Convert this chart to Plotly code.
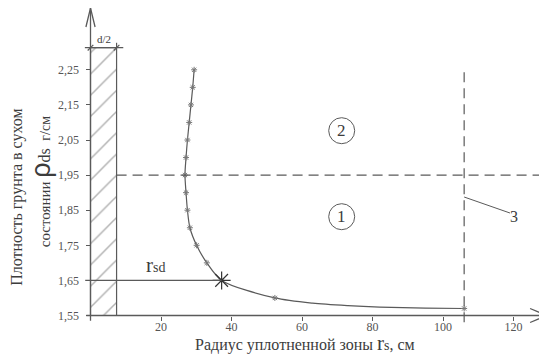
import plotly.graph_objects as go

# radius of compacted zone (cm) and dry density (g/cm3)
curve_r = [29.4, 29.0, 28.5, 28.0, 27.5, 27.1, 26.8, 27.1, 27.5, 28.2, 30.1, 33.0, 37.2,
           52.3, 63.0, 73.0, 82.0, 95.0, 106.0]
curve_rho = [2.25, 2.20, 2.15, 2.10, 2.05, 2.00, 1.95, 1.90, 1.85, 1.80, 1.75, 1.70, 1.65,
             1.60, 1.585, 1.578, 1.574, 1.571, 1.570]
marker_r = [29.4, 29.0, 28.5, 28.0, 27.5, 27.1, 26.8, 27.1, 27.5, 28.2, 30.1, 33.0, 52.3, 106.0]
marker_rho = [2.25, 2.20, 2.15, 2.10, 2.05, 2.00, 1.95, 1.90, 1.85, 1.80, 1.75, 1.70, 1.60, 1.570]
r_sd = 37.2
rho_sd = 1.65
half_d = 7.4
rho_limit = 1.95
r_limit = 106.0

x_ticks = [20, 40, 60, 80, 100, 120]
y_ticks = [1.55, 1.65, 1.75, 1.85, 1.95, 2.05, 2.15, 2.25]
y_ticktext = ["1,55", "1,65", "1,75", "1,85", "1,95", "2,05", "2,15", "2,25"]

# page has an 8px body margin, so the figure is shrunk and shifted by that much
W, H = 539, 349
X0PX, PXX = 82.5, 3.525      # pixel of r=0, pixels per cm
Y0PX, PXY = 307.5, 351.0     # pixel of rho=1.55, pixels per g/cm3
x_range = [-X0PX / PXX, (W - X0PX) / PXX]
y_range = [1.55 - (H - Y0PX) / PXY, 1.55 + Y0PX / PXY]

LINE = "#5a5a5a"
TEXT = "#3c3c3c"
FONT = "Liberation Serif"

fig = go.Figure()

# hatched half-diameter strip
fig.add_trace(go.Scatter(
    x=[0, half_d, half_d, 0, 0], y=[1.55, 1.55, 2.313, 2.313, 1.55],
    mode="lines", fill="toself", line=dict(color=LINE, width=1.2),
    fillcolor="white",
    fillpattern=dict(shape="/", size=15, solidity=0.1, fgcolor="#666", bgcolor="white"),
    hoverinfo="skip", showlegend=False))

# density curve
fig.add_trace(go.Scatter(
    x=curve_r, y=curve_rho, mode="lines", line=dict(color=LINE, width=1.2, shape="spline", smoothing=0.8),
    showlegend=False))
fig.add_trace(go.Scatter(
    x=marker_r, y=marker_rho, mode="markers",
    marker=dict(symbol="asterisk-open", size=5, color="#777", line=dict(color="#777", width=1)),
    showlegend=False))
fig.add_trace(go.Scatter(
    x=[r_sd], y=[rho_sd], mode="markers",
    marker=dict(symbol="asterisk-open", size=15, color="#333", line=dict(color="#333", width=1.2)),
    showlegend=False))

# axes drawn by hand with open arrows
fig.add_shape(type="line", x0=0, x1=0, y0=1.535, y1=2.426, line=dict(color=LINE, width=1.3))
fig.add_shape(type="path", path="M -1.3,2.372 L 0,2.426 L 1.3,2.372", line=dict(color=LINE, width=1.3))
fig.add_shape(type="line", x0=-1.2, x1=x_range[1] - 0.1, y0=1.55, y1=1.55, line=dict(color=LINE, width=1.3))
fig.add_shape(type="path", path=f"M {x_range[1] - 4.8},1.570 L {x_range[1] - 0.1},1.55 L {x_range[1] - 4.8},1.530",
              line=dict(color=LINE, width=1.3))

# dimension line d/2
fig.add_shape(type="line", x0=-1.6, x1=9.3, y0=2.313, y1=2.313, line=dict(color=LINE, width=1.2))
fig.add_shape(type="line", x0=half_d, x1=half_d, y0=2.313, y1=2.327, line=dict(color=LINE, width=1.2))
for xx in [0, half_d]:
    fig.add_shape(type="line", x0=xx - 0.8, x1=xx + 0.8, y0=2.305, y1=2.321, line=dict(color=LINE, width=1.2))
fig.add_annotation(x=half_d / 2, y=2.316, text="d/2", showarrow=False, yanchor="bottom",
                   font=dict(family=FONT, size=11, color=TEXT))

# r_sd line
fig.add_shape(type="line", x0=-1.5, x1=r_sd, y0=rho_sd, y1=rho_sd, line=dict(color=LINE, width=1.3))
fig.add_annotation(x=18.5, y=1.654, yanchor="bottom", showarrow=False,
                   text="<span style='font-size:21px'>r</span><span style='font-size:14px'>sd</span>",
                   font=dict(family=FONT, size=14, color=TEXT))

# dashed boundaries
fig.add_shape(type="line", x0=half_d, x1=x_range[1], y0=rho_limit, y1=rho_limit,
              line=dict(color=LINE, width=1.2, dash="10px,6px"))
fig.add_shape(type="line", x0=r_limit, x1=r_limit, y0=1.531, y1=2.25,
              line=dict(color=LINE, width=1.2, dash="10px,6px"))

# leader to label 3
fig.add_shape(type="line", x0=r_limit, x1=119.0, y0=1.8876, y1=1.842, line=dict(color=LINE, width=1))
fig.add_annotation(x=120.1, y=1.831, text="3", showarrow=False,
                   font=dict(family=FONT, size=16, color=TEXT))

# zone labels in circles
for yy, lab in [(2.0765, "2"), (1.8315, "1")]:
    fig.add_shape(type="circle", xsizemode="pixel", ysizemode="pixel", xanchor=71.26, yanchor=yy,
                  x0=-13, x1=13, y0=-13, y1=13, line=dict(color=LINE, width=1))
    fig.add_annotation(x=71.26, y=yy, text=lab, showarrow=False,
                       font=dict(family=FONT, size=17, color=TEXT))

# axis titles
fig.add_annotation(x=-20.85, y=1.888, text="Плотность грунта в сухом", textangle=-90,
                   showarrow=False, font=dict(family=FONT, size=16, color=TEXT))
fig.add_annotation(x=-14.0, y=1.93, textangle=-90, showarrow=False,
                   text="состоянии <span style='font-family:Liberation Sans;font-size:27px'>ρ</span>"
                        "<span style='font-size:16px'>ds</span>  <span style='font-size:14px'>г/см</span>",
                   font=dict(family=FONT, size=15, color=TEXT))
fig.add_annotation(x=60.9, y=y_range[0] + 0.001, showarrow=False, yanchor="bottom",
                   text="Радиус уплотненной зоны <span style='font-size:21px'>r</span>"
                        "<span style='font-size:14px'>s</span>, см",
                   font=dict(family=FONT, size=16, color=TEXT))

fig.update_xaxes(range=x_range, anchor="free", position=(H - Y0PX) / H, showline=False,
                 showgrid=False, zeroline=False, tickvals=x_ticks, ticks="outside", ticklen=4,
                 tickcolor=LINE, ticklabelstandoff=-4,
                 tickfont=dict(family=FONT, size=12, color="#555"))
fig.update_yaxes(range=y_range, anchor="free", position=X0PX / W, showline=False,
                 showgrid=False, zeroline=False, tickvals=y_ticks, ticktext=y_ticktext,
                 ticks="outside", ticklen=5, tickcolor=LINE, ticklabelstandoff=4,
                 tickfont=dict(family=FONT, size=12, color="#555"))

fig.update_layout(width=W, height=H, margin=dict(l=0, r=0, t=0, b=0),
                  plot_bgcolor="white", paper_bgcolor="white", showlegend=False)
fig.write_html("out.html")
